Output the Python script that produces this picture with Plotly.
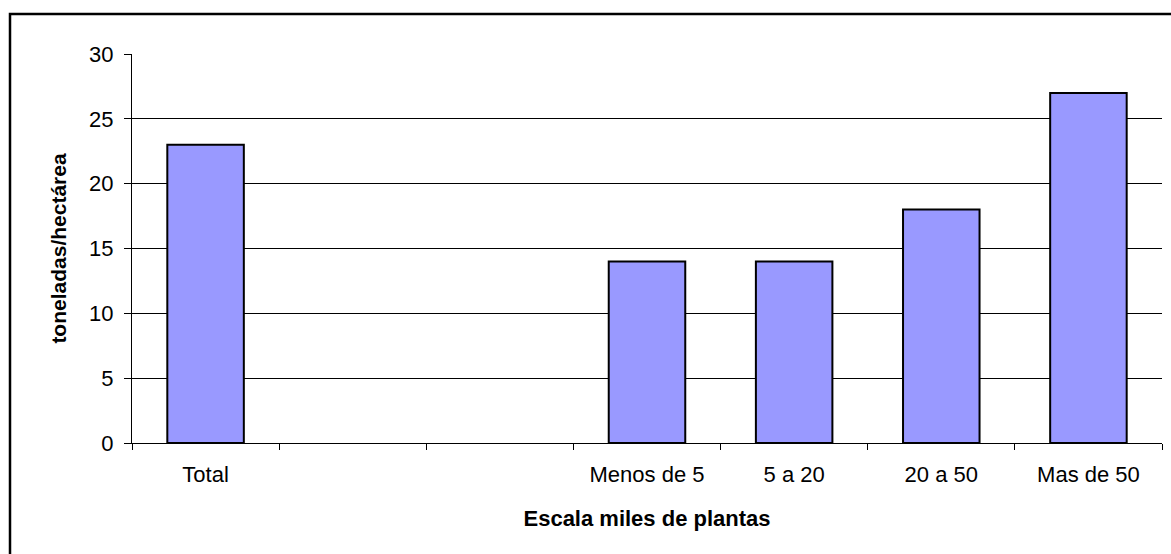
import plotly.graph_objects as go

categories = ["Total", " ", "  ", "Menos de 5", "5 a 20", "20 a 50", "Mas de 50"]
values = [23, None, None, 14, 14, 18, 27]
y_ticks = [0, 5, 10, 15, 20, 25, 30]

FONT = "Liberation Sans, Arial, sans-serif"

fig = go.Figure()
fig.add_trace(go.Bar(
    x=categories,
    y=values,
    marker=dict(color="#9999FF", line=dict(color="black", width=2)),
    hoverinfo="x+y",
))

fig.update_layout(
    width=1171,
    height=554,
    margin=dict(l=132, r=9, t=54, b=111),
    paper_bgcolor="white",
    plot_bgcolor="white",
    bargap=0.48,
    showlegend=False,
    font=dict(family=FONT, color="black", size=22),
    xaxis=dict(
        type="category",
        categoryorder="array",
        categoryarray=categories,
        showline=True,
        linecolor="black",
        linewidth=1,
        ticks="outside",
        tickson="boundaries",
        ticklen=6,
        tickcolor="black",
        tickwidth=1,
        showgrid=False,
        tickfont=dict(family=FONT, size=22, color="black"),
        ticklabelstandoff=12,
        title=dict(text="<b>Escala miles de plantas</b>",
                   font=dict(family=FONT, size=22, color="black"),
                   standoff=24),
    ),
    yaxis=dict(
        range=[0, 30],
        tickvals=y_ticks,
        showline=True,
        linecolor="black",
        linewidth=1,
        ticks="outside",
        ticklen=7,
        tickcolor="black",
        showgrid=True,
        gridcolor="black",
        gridwidth=1,
        zeroline=False,
        tickfont=dict(family=FONT, size=22, color="black"),
        ticklabelstandoff=6,
        title=dict(text="<b>toneladas/hectárea</b>",
                   font=dict(family=FONT, size=21, color="black"),
                   standoff=16),
    ),
    shapes=[dict(
        type="rect", xref="paper", yref="paper",
        x0=(10 - 132) / 1030, x1=(1180 - 132) / 1030,
        y0=-(560 - 443) / 389, y1=(443 - 14) / 389,
        line=dict(color="black", width=2.5),
        fillcolor="rgba(0,0,0,0)",
        layer="above",
    )],
)

fig.write_html("out.html")
